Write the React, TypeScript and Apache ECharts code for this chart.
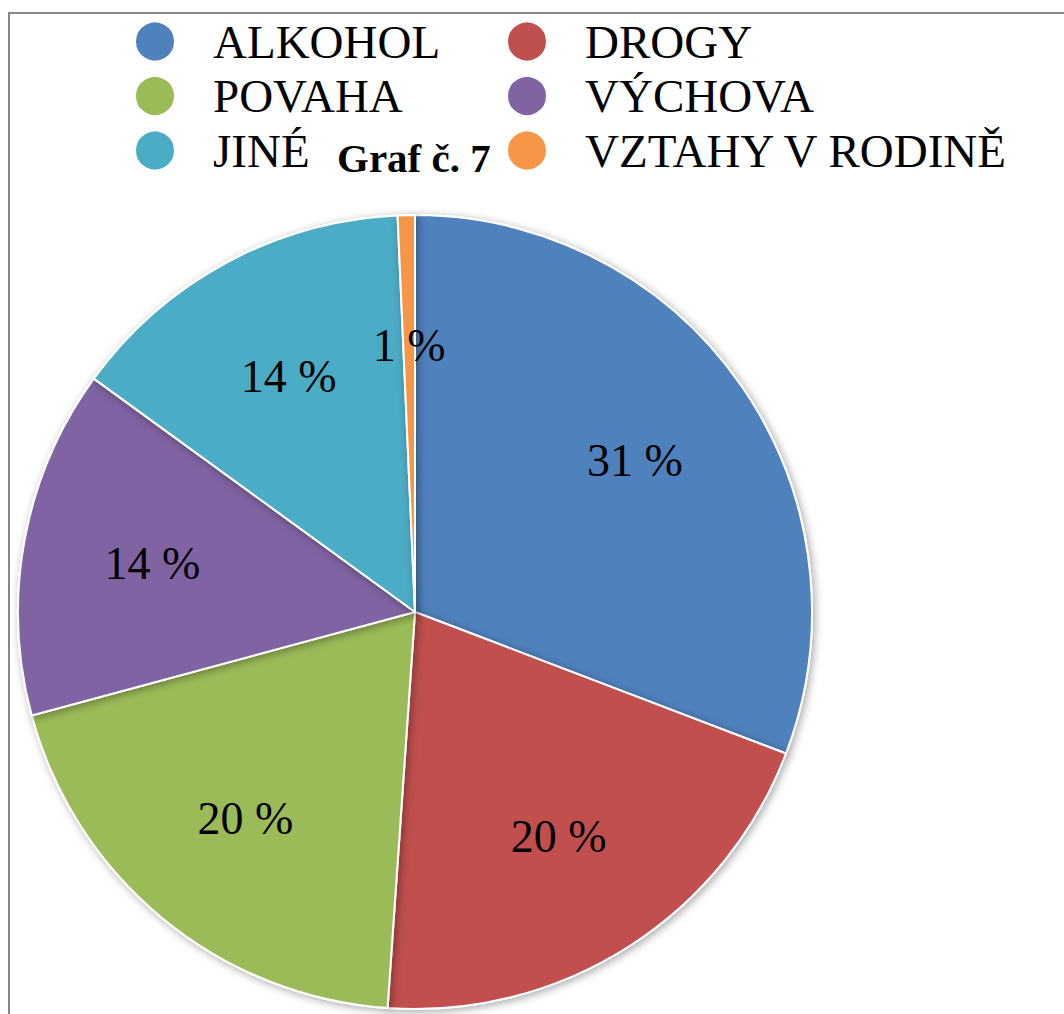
import React, { useEffect, useRef } from "react";
import * as echarts from "echarts";

const categories = ["ALKOHOL", "DROGY", "POVAHA", "VÝCHOVA", "JINÉ", "VZTAHY V RODINĚ"];
const values = [30.8, 20.3, 19.7, 14.2, 14.3, 0.7];
const colors = ["#4F81BD", "#C0504D", "#9BBB59", "#8064A2", "#4BACC6", "#F79646"];
const leftLegend = ["ALKOHOL", "POVAHA", "JINÉ"];
const rightLegend = ["DROGY", "VÝCHOVA", "VZTAHY V RODINĚ"];
const titleText = "Graf č. 7";

const FONT = "'Liberation Serif', 'Times New Roman', serif";

export default function App() {
  const ref = useRef<HTMLDivElement>(null);
  useEffect(() => {
    if (!ref.current) return;
    const chart = echarts.init(ref.current, null, { renderer: "svg" });
    const data = categories.map((name, i) => ({ name, value: values[i], itemStyle: { color: colors[i] } }));
    const legendBase = {
      orient: "vertical",
      icon: "circle",
      itemWidth: 40,
      itemHeight: 40,
      itemGap: 7.5,
      padding: 0,
      selectedMode: false,
      textStyle: { fontFamily: FONT, fontSize: 47, color: "#000", lineHeight: 46, padding: [0, 0, 0, 33] },
    };
    chart.setOption({
      animation: false,
      backgroundColor: "#fff",
      color: colors,
      title: {
        text: titleText,
        left: 337,
        top: 137,
        padding: 0,
        textStyle: { fontFamily: FONT, fontSize: 41, fontWeight: "bold", color: "#000" },
      },
      legend: [
        { ...legendBase, data: leftLegend, left: 134, top: 18 },
        { ...legendBase, data: rightLegend, left: 506, top: 18 },
      ],
      graphic: [
        {
          type: "rect",
          z: -10,
          shape: { x: 9, y: 13, width: 1200, height: 1200 },
          style: { fill: "none", stroke: "#888888", lineWidth: 2 },
        },
      ],
      series: [
        {
          type: "pie",
          center: [415, 612],
          radius: [0, 397],
          startAngle: 90,
          clockwise: true,
          label: { show: false },
          labelLine: { show: false },
          itemStyle: {
            borderColor: "#fff",
            borderWidth: 2,
            shadowBlur: 8,
            shadowColor: "rgba(0,0,0,0.35)",
            shadowOffsetX: 2,
            shadowOffsetY: 2,
          },
          emphasis: { disabled: true },
          data,
        },
        {
          type: "pie",
          center: [415, 612],
          radius: [0, 528],
          startAngle: 90,
          clockwise: true,
          silent: true,
          z: 5,
          itemStyle: { color: "rgba(0,0,0,0)", borderWidth: 0 },
          label: {
            show: true,
            position: "inside",
            fontFamily: FONT,
            fontSize: 46,
            color: "#000",
            formatter: (p: any) => Math.round(p.percent) + " %",
          },
          labelLine: { show: false },
          emphasis: { disabled: true },
          data: categories.map((name, i) => ({ name, value: values[i] })),
        },
      ],
    });
    return () => chart.dispose();
  }, []);
  return <div ref={ref} style={{ position: "fixed", left: 0, top: 0, width: 1064, height: 1014 }} />;
}
